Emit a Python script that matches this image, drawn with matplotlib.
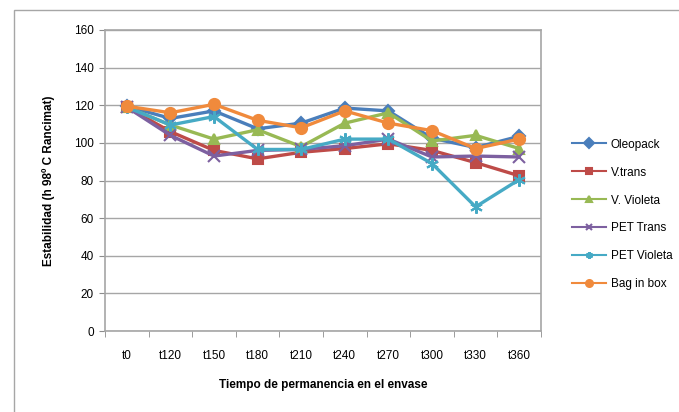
import matplotlib
matplotlib.use("Agg")
import matplotlib.pyplot as plt
from matplotlib.patches import Rectangle

plt.rcParams['font.family'] = ['Liberation Sans', 'DejaVu Sans']

categories = ['t0', 't120', 't150', 't180', 't210', 't240', 't270', 't300', 't330', 't360']

oleopack = [119.5, 113, 117, 107.5, 110.5, 118.5, 117, 102.5, 97.5, 103.5]
v_trans = [119, 106, 96, 91.5, 95, 97, 99.5, 96, 89.5, 82.5]
v_violeta = [119, 109.5, 102, 107, 98, 110.5, 116, 101, 104, 97]
pet_trans = [119, 104, 93, 96, 96.5, 98.5, 102, 92.5, 93, 92.5]
pet_violeta = [119, 109.5, 114, 96.5, 96.5, 102, 102, 89, 66, 80.5]
bag_in_box = [119.5, 116, 120.5, 112, 108, 117, 110.5, 106.5, 97, 102]

series = [
    ('Oleopack', oleopack, '#4A7EBB', 'D', 6),
    ('V.trans', v_trans, '#BE4B48', 's', 7),
    ('V. Violeta', v_violeta, '#98B954', '^', 7),
    ('PET Trans', pet_trans, '#7D60A0', 'x', 8),
    ('PET Violeta', pet_violeta, '#46AAC5', (6, 2, 0), 9),
    ('Bag in box', bag_in_box, '#F08A3C', 'o', 8),
]

fig = plt.figure(figsize=(6.79, 4.12), dpi=100)
# outer chart frame (cut off at right and bottom like the original)
fig.patches.append(Rectangle((14 / 679, -0.1), 1.2, 1 - 10 / 412 + 0.1,
                             transform=fig.transFigure, fill=False,
                             edgecolor='#A6A6A6', linewidth=1.0))

ax = fig.add_axes([105 / 679, 1 - 331 / 412, 436 / 679, 301 / 412])
x = list(range(len(categories)))
handles = []
for name, vals, col, mk, ms in series:
    h, = ax.plot(x, vals, color=col, linewidth=2.4, marker=mk, markersize=ms,
                 markeredgecolor=col, markeredgewidth=1.5, label=name)
    handles.append(h)

ax.set_xlim(-0.5, len(categories) - 0.5)
ax.set_ylim(0, 160)
ax.set_yticks(range(0, 161, 20))
ax.set_xticks(x)
ax.set_xticklabels(categories)
ax.set_xticks([i + 0.5 for i in range(-1, len(categories))], minor=True)
ax.tick_params(axis='x', which='major', length=0, pad=14, labelsize=8.5)
ax.tick_params(axis='x', which='minor', length=4, color='#8C8C8C', direction='out')
ax.tick_params(axis='y', length=4, color='#8C8C8C', labelsize=8.5, pad=4)
ax.grid(axis='y', color='#A6A6A6', linewidth=1.0)
ax.set_axisbelow(True)
for s in ax.spines.values():
    s.set_color('#A6A6A6')
    s.set_linewidth(1.2)

ax.set_xlabel('Tiempo de permanencia en el envase', fontsize=8.5,
              fontweight='bold', labelpad=12)
ax.set_ylabel('Estabilidad (h 98º C Rancimat)', fontsize=8.5,
              fontweight='bold', labelpad=14)

leg = fig.legend(handles=handles, loc='upper left',
                 bbox_to_anchor=(561 / 679, 1 - 128 / 412), frameon=False,
                 fontsize=8.5, handlelength=2.9, labelspacing=1.35,
                 handletextpad=0.4)
for lh in leg.get_lines():
    lh.set_linewidth(1.5)
    lh.set_markersize(5)

fig.savefig('out.png', dpi=100)
